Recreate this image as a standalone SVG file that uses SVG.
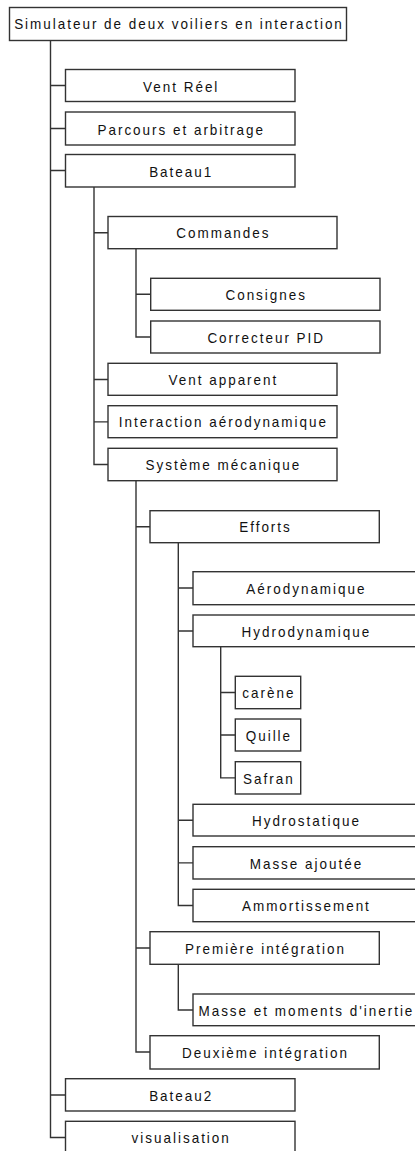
<svg xmlns="http://www.w3.org/2000/svg" width="415" height="1151" viewBox="0 0 415 1151">
<style>
.box{fill:#fff;stroke:#333;stroke-width:1.4}
.lbl{font-family:"Liberation Sans",Arial,sans-serif;font-size:15px;letter-spacing:2.2px;text-anchor:middle;fill:#111}
.conn{fill:none;stroke:#333;stroke-width:1.4}
</style>
<rect width="415" height="1151" fill="#fff"/>
<g id="connectors">
<path class="conn" d="M50.5 40.5V1137.5H65.5"/>
<path class="conn" d="M50.5 85.5H65.5M50.5 128.5H65.5M50.5 170.5H65.5M50.5 1095H65.5"/>
<path class="conn" d="M94 187V464.5H108"/>
<path class="conn" d="M94 232.7H108M94 379.5H108M94 421.9H108"/>
<path class="conn" d="M136 248.7V337H150.7M136 294.3H150.7"/>
<path class="conn" d="M136 480.7V1052H150M136 526.7H150M136 948H150"/>
<path class="conn" d="M178.3 542.7V905.5H193M178.3 588H193M178.3 631H193M178.3 820.2H193M178.3 862.9H193"/>
<path class="conn" d="M220.7 646.7V777.9H235.3M220.7 692.5H235.3M220.7 735H235.3"/>
<path class="conn" d="M178.3 964.3V1010H193"/>
</g>
<g id="n-root"><rect class="box" x="9.5" y="7.5" width="337" height="33"/><text class="lbl" transform="translate(179 29.2) scale(0.9 1)">Simulateur de deux voiliers en interaction</text></g>
<g id="n-ventreel"><rect class="box" x="65.5" y="69.5" width="229.5" height="32"/><text class="lbl" transform="translate(181.2 91.5) scale(0.9 1)">Vent Réel</text></g>
<g id="n-parcours"><rect class="box" x="65.5" y="112" width="229.5" height="33"/><text class="lbl" transform="translate(181.2 134.5) scale(0.9 1)">Parcours et arbitrage</text></g>
<g id="n-bateau1"><rect class="box" x="65.5" y="154.5" width="229.5" height="32.5"/><text class="lbl" transform="translate(181.2 176.5) scale(0.9 1)">Bateau1</text></g>
<g id="n-commandes"><rect class="box" x="108" y="216.5" width="229" height="32.2"/><text class="lbl" transform="translate(223.4 238.4) scale(0.9 1)">Commandes</text></g>
<g id="n-consignes"><rect class="box" x="150.7" y="278.3" width="229.3" height="32"/><text class="lbl" transform="translate(266.2 300) scale(0.9 1)">Consignes</text></g>
<g id="n-pid"><rect class="box" x="150.7" y="321" width="229.3" height="32"/><text class="lbl" transform="translate(266.2 342.7) scale(0.9 1)">Correcteur PID</text></g>
<g id="n-ventapp"><rect class="box" x="108" y="363.3" width="229" height="32"/><text class="lbl" transform="translate(223.4 385) scale(0.9 1)">Vent apparent</text></g>
<g id="n-interaction"><rect class="box" x="108" y="405.7" width="229" height="32"/><text class="lbl" transform="translate(223.4 427.4) scale(0.9 1)">Interaction aérodynamique</text></g>
<g id="n-systeme"><rect class="box" x="108" y="448.3" width="229" height="32.4"/><text class="lbl" transform="translate(223.4 470.2) scale(0.9 1)">Système mécanique</text></g>
<g id="n-efforts"><rect class="box" x="150" y="510.7" width="229.3" height="32"/><text class="lbl" transform="translate(265.5 532.4) scale(0.9 1)">Efforts</text></g>
<g id="n-aero"><rect class="box" x="193" y="571.7" width="225" height="33"/><text class="lbl" transform="translate(306.4 593.9) scale(0.9 1)">Aérodynamique</text></g>
<g id="n-hydro"><rect class="box" x="193" y="615" width="225" height="31.7"/><text class="lbl" transform="translate(306.4 636.7) scale(0.9 1)">Hydrodynamique</text></g>
<g id="n-carene"><rect class="box" x="235.3" y="676.3" width="65.4" height="32.4"/><text class="lbl" transform="translate(268.9 698.2) scale(0.9 1)">carène</text></g>
<g id="n-quille"><rect class="box" x="235.3" y="719" width="65.4" height="32"/><text class="lbl" transform="translate(268.9 740.7) scale(0.9 1)">Quille</text></g>
<g id="n-safran"><rect class="box" x="235.3" y="761.7" width="65.4" height="32.3"/><text class="lbl" transform="translate(268.9 783.5) scale(0.9 1)">Safran</text></g>
<g id="n-hydrostat"><rect class="box" x="193" y="804.3" width="225" height="31.7"/><text class="lbl" transform="translate(306.4 826) scale(0.9 1)">Hydrostatique</text></g>
<g id="n-masseaj"><rect class="box" x="193" y="846.7" width="225" height="32.3"/><text class="lbl" transform="translate(306.4 868.5) scale(0.9 1)">Masse ajoutée</text></g>
<g id="n-ammort"><rect class="box" x="193" y="889.3" width="225" height="32.4"/><text class="lbl" transform="translate(306.4 911.2) scale(0.9 1)">Ammortissement</text></g>
<g id="n-premiere"><rect class="box" x="150" y="931.7" width="229.3" height="32.6"/><text class="lbl" transform="translate(265.5 953.7) scale(0.9 1)">Première intégration</text></g>
<g id="n-masse"><rect class="box" x="193" y="994" width="225" height="31.7"/><text class="lbl" transform="translate(306.4 1015.7) scale(0.9 1)">Masse et moments d'inertie</text></g>
<g id="n-deuxieme"><rect class="box" x="150" y="1035.7" width="229.3" height="33.3"/><text class="lbl" transform="translate(265.5 1058) scale(0.9 1)">Deuxième intégration</text></g>
<g id="n-bateau2"><rect class="box" x="65.5" y="1078.7" width="229.5" height="32.3"/><text class="lbl" transform="translate(181.2 1100.5) scale(0.9 1)">Bateau2</text></g>
<g id="n-visu"><rect class="box" x="65.5" y="1121.3" width="229.5" height="32.5"/><text class="lbl" transform="translate(181.2 1143.2) scale(0.9 1)">visualisation</text></g>
</svg>
